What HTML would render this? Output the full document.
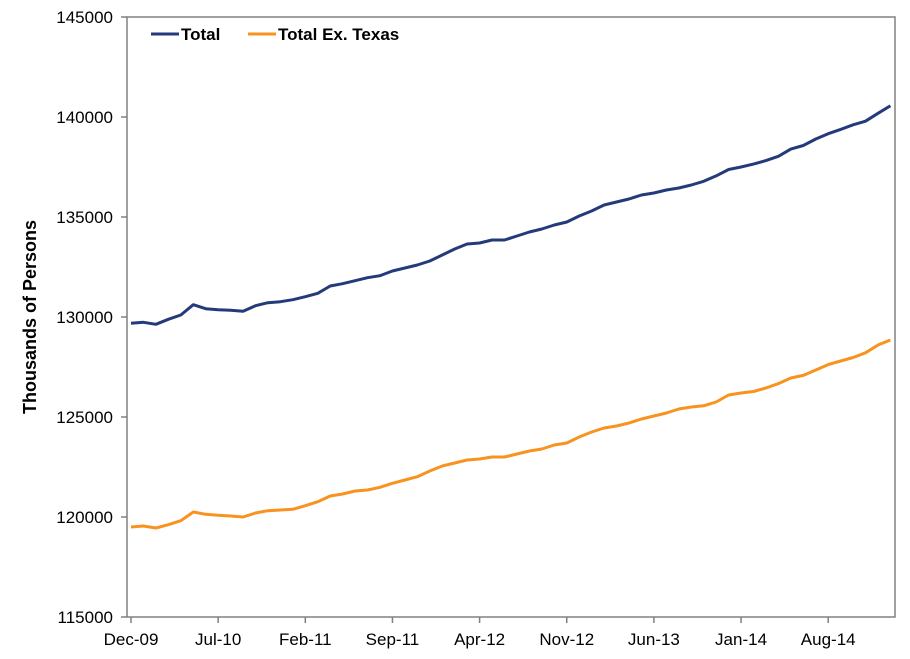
<!DOCTYPE html>
<html><head><meta charset="utf-8"><style>
body{margin:0;background:#fff;}
svg{display:block;font-family:"Liberation Sans",Arial,sans-serif;}
</style></head><body>
<svg id="chart" width="910" height="659" viewBox="0 0 910 659">
<rect x="127" y="17" width="768" height="600" fill="#fff" stroke="#808080" stroke-width="1.5"/>
<g id="yaxis"></g>
<g id="xaxis"></g>
<text x="36" y="317" transform="rotate(-90 36 317)" text-anchor="middle" font-size="18" font-weight="bold" fill="#000">Thousands of Persons</text>
<g id="series"></g>
<g>
<g>
<line x1="151" y1="34" x2="179" y2="34" stroke="#233a7b" stroke-width="3"/>
<text x="181" y="40" font-size="17" font-weight="bold">Total</text></g>
<g>
<line x1="248" y1="34" x2="276" y2="34" stroke="#f7931e" stroke-width="3"/>
<text x="278" y="40" font-size="17" font-weight="bold">Total Ex. Texas</text></g>
</g>
</svg>
<script>
const xTickLabels=["Dec-09","Jul-10","Feb-11","Sep-11","Apr-12","Nov-12","Jun-13","Jan-14","Aug-14"];
const yTicks=[115000,120000,125000,130000,135000,140000,145000];
const totalSeries=[129685,129735,129635,129885,130100,130615,130415,130365,130335,130285,130565,130715,130765,130865,131015,131185,131550,131665,131815,131965,132065,132300,132450,132600,132800,133100,133400,133650,133700,133850,133850,134050,134250,134400,134600,134750,135050,135300,135600,135750,135900,136100,136200,136350,136450,136600,136785,137055,137375,137500,137645,137820,138035,138395,138575,138900,139165,139380,139610,139790,140185,140560];
const exTexasSeries=[119500,119550,119450,119615,119815,120250,120135,120085,120050,120000,120200,120315,120350,120385,120565,120765,121050,121150,121300,121350,121485,121685,121850,122015,122300,122550,122700,122850,122900,123000,123000,123150,123300,123400,123600,123700,124000,124250,124450,124550,124700,124900,125050,125200,125400,125500,125560,125750,126100,126200,126275,126450,126670,126950,127080,127350,127620,127800,127975,128210,128600,128850];
const NS="http://www.w3.org/2000/svg";
const x0=131,monthW=12.45;
function xScale(i){return x0+i*monthW;}
function yScale(v){return 17+(145000-v)/30000*600;}
const ya=document.getElementById('yaxis');
yTicks.forEach(v=>{
 const y=yScale(v);
 const t=document.createElementNS(NS,'line');
 t.setAttribute('x1',121);t.setAttribute('x2',127);t.setAttribute('y1',y);t.setAttribute('y2',y);t.setAttribute('stroke','#808080');t.setAttribute('stroke-width','1.5');
 
 
 ya.appendChild(t);
 const l=document.createElementNS(NS,'text');
 l.setAttribute('x',113);l.setAttribute('y',y+6);l.setAttribute('text-anchor','end');l.setAttribute('font-size','17');
 l.textContent=v;
 
 
 ya.appendChild(l);
});
const xa=document.getElementById('xaxis');
xTickLabels.forEach((s,k)=>{
 const x=xScale(k*7);
 const t=document.createElementNS(NS,'line');
 t.setAttribute('x1',x);t.setAttribute('x2',x);t.setAttribute('y1',617);t.setAttribute('y2',623);t.setAttribute('stroke','#808080');t.setAttribute('stroke-width','1.5');
 
 
 xa.appendChild(t);
 const l=document.createElementNS(NS,'text');
 l.setAttribute('x',x);l.setAttribute('y',645);l.setAttribute('text-anchor','middle');l.setAttribute('font-size','17');
 l.textContent=s;
 
 
 xa.appendChild(l);
});
const sg=document.getElementById('series');
function drawLine(arr,color,name){
 const p=document.createElementNS(NS,'polyline');
 p.setAttribute('points',arr.map((v,i)=>xScale(i).toFixed(1)+','+yScale(v).toFixed(1)).join(' '));
 p.setAttribute('fill','none');p.setAttribute('stroke',color);p.setAttribute('stroke-width','3');p.setAttribute('stroke-linejoin','round');
 
 
 sg.appendChild(p);
}
drawLine(totalSeries,'#233a7b','total-line');
drawLine(exTexasSeries,'#f7931e','total-ex-texas-line');
</script>
</body></html>
